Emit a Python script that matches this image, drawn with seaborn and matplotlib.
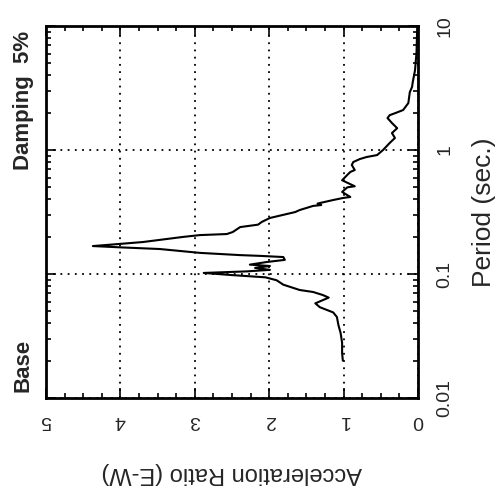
import numpy as np
import pandas as pd
import seaborn as sns
import matplotlib.pyplot as plt
from matplotlib.ticker import FixedLocator, MultipleLocator, LogLocator, NullFormatter

# spectrum (period in sec, acceleration ratio E-W)
period = [0.020, 0.023, 0.0278, 0.0334, 0.0388, 0.045, 0.049, 0.054, 0.058,
          0.0645, 0.0677, 0.0716, 0.0743, 0.082, 0.089, 0.094, 0.098, 0.102,
          0.105, 0.108, 0.112, 0.116, 0.119, 0.125, 0.130, 0.137, 0.140,
          0.142, 0.148, 0.159, 0.164, 0.168, 0.175, 0.181, 0.199, 0.206,
          0.210, 0.218, 0.239, 0.250, 0.263, 0.283, 0.316, 0.328, 0.354,
          0.360, 0.370, 0.395, 0.410, 0.418, 0.459, 0.500, 0.510, 0.570,
          0.630, 0.665, 0.690, 0.757, 0.800, 0.846, 0.878, 0.910, 1.00,
          1.14, 1.25, 1.37, 1.50, 1.65, 1.81, 1.91, 1.99, 2.10, 2.39, 2.93,
          3.22, 3.54, 4.40, 6.10, 10.0]
ratio = [1.01, 1.02, 1.02, 1.04, 1.07, 1.09, 1.14, 1.32, 1.38,
         1.20, 1.28, 1.41, 1.59, 1.81, 1.90, 2.05, 2.50, 2.88,
         2.30, 1.99, 2.19, 1.99, 2.26, 2.03, 1.79, 1.81, 2.12,
         2.39, 2.93, 3.47, 4.00, 4.37, 4.00, 3.70, 3.16, 2.93,
         2.57, 2.49, 2.39, 2.15, 2.10, 1.99, 1.65, 1.59, 1.41,
         1.30, 1.35, 1.14, 1.01, 0.91, 1.02, 0.95, 0.85, 1.02,
         0.95, 0.91, 0.85, 0.89, 0.87, 0.78, 0.69, 0.55, 0.47,
         0.38, 0.31, 0.35, 0.28, 0.35, 0.41, 0.38, 0.30, 0.20, 0.13, 0.11,
         0.08, 0.07, 0.04, 0.02, 0.01]

ratio_ticks = [0, 1, 2, 3, 4, 5]
period_ticks = [0.01, 0.1, 1, 10]
period_labels = ["0.01", "0.1", "1", "10"]

df = pd.DataFrame({"period": period, "ratio": ratio})

sns.set_style("ticks")
plt.rcParams["font.family"] = ["Liberation Sans", "DejaVu Sans"]

fig = plt.figure(figsize=(4.96, 4.97), dpi=100)
# the whole chart is turned a quarter turn: ratio runs right-to-left, period upward
ax = fig.add_axes([46 / 496, 1 - 398 / 497, 372 / 496, 372 / 497])

sns.lineplot(data=df, x="ratio", y="period", sort=False, estimator=None,
             color="black", lw=1.5, ax=ax)

ax.set_yscale("log")
ax.set_xlim(5, 0)
ax.set_ylim(0.01, 10)

ax.xaxis.set_major_locator(FixedLocator(ratio_ticks))
ax.xaxis.set_minor_locator(MultipleLocator(0.25))
ax.set_xticklabels([str(t) for t in ratio_ticks], rotation=180, fontsize=14)

ax.yaxis.set_major_locator(FixedLocator(period_ticks))
ax.yaxis.set_minor_locator(LogLocator(base=10, subs=np.arange(2, 10)))
ax.yaxis.set_minor_formatter(NullFormatter())
ax.set_yticklabels(period_labels, rotation=90, fontsize=14, va="center")

ax.tick_params(which="both", direction="in", top=True, right=True,
               left=True, bottom=True, labelleft=False, labelright=True,
               color="black", width=1.2)
ax.tick_params(which="major", length=7)
ax.tick_params(axis="x", which="major", pad=10)
ax.tick_params(axis="y", which="major", pad=13)
ax.tick_params(which="minor", length=3.5)

ax.grid(True, which="major", color="black", ls=(0, (1, 3)), lw=1.3)
for s in ax.spines.values():
    s.set_linewidth(2)
    s.set_color("black")

ax.set_xlabel("Acceleration Ratio (E-W)", rotation=180, fontsize=17, labelpad=24)
ax.yaxis.set_label_position("right")
ax.set_ylabel("Period (sec.)", rotation=90, fontsize=19, labelpad=14)

fig.text(23 / 496, 1 - 365 / 497, "Base", rotation=90, fontsize=16,
         fontweight="bold", ha="center", va="center")
fig.text(23 / 496, 1 - 100 / 497, "Damping  5%", rotation=90, fontsize=16,
         fontweight="bold", ha="center", va="center")

fig.savefig("out.png", dpi=100, facecolor="white")
